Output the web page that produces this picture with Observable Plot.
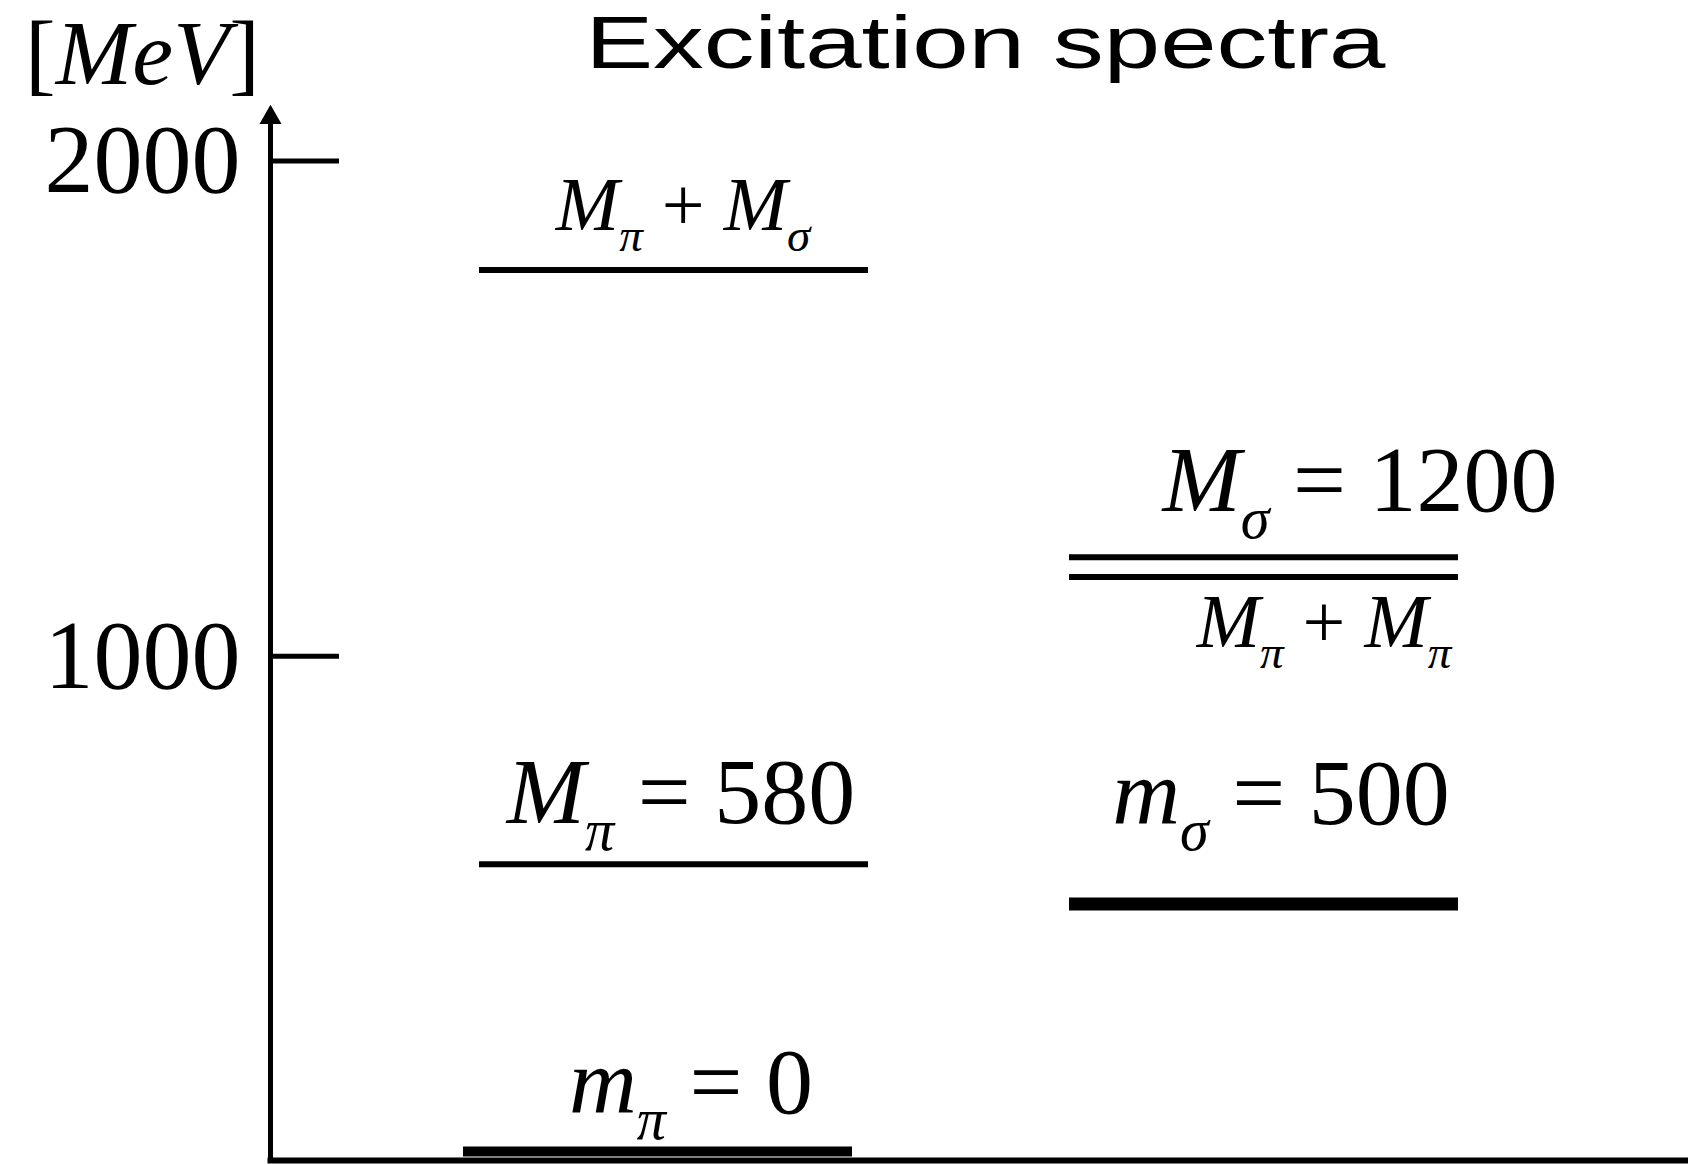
<!DOCTYPE html>
<html>
<head>
<meta charset="utf-8">
<script src="https://cdn.jsdelivr.net/npm/d3@7"></script>
<script src="https://cdn.jsdelivr.net/npm/@observablehq/plot@0.6"></script>
<style>
  html, body { margin: 0; padding: 0; background: #fff; }
</style>
</head>
<body>
<script>
// ---- data: excitation levels of the pion and sigma channels (MeV) ----
const titleText = "Excitation spectra";
const unitLabel = "[MeV]";
const channels = ["pion", "sigma"];
const levelChannel = ["pion", "pion", "pion", "sigma", "sigma", "sigma"];
const levelEnergy = [0, 580, 1780, 500, 1160, 1200];
const levelLabel = ["m_π = 0", "M_π = 580", "M_π + M_σ", "m_σ = 500", "M_π + M_π", "M_σ = 1200"];
const yTicks = [1000, 2000];

// ---- rendering ----
const serif = "'Liberation Serif', 'Times New Roman', serif";
const levels = levelEnergy.map((energy, i) => ({energy, channel: levelChannel[i], label: levelLabel[i]}));
const pick = (...idx) => idx.map((i) => levels[i]);

// line weight and label nudge for each level (by index)
const lineStyle = [
  {strokeWidth: 10, dx: -16},
  {strokeWidth: 6},
  {strokeWidth: 6},
  {strokeWidth: 13},
  {strokeWidth: 6},
  {strokeWidth: 6}
];
const labelStyle = [
  {dx: 17, dy: -39, fontSize: 94},
  {dx: 7, dy: -41, fontSize: 94},
  {dx: 9, dy: -40, fontSize: 76},
  {dx: 17, dy: -80, fontSize: 94},
  {dx: 60, dy: 70, fontSize: 76},
  {dx: 96, dy: -46, fontSize: 94}
];

const chart = Plot.plot({
  width: 1688,
  height: 1164,
  marginLeft: 270,
  marginRight: 0,
  marginTop: 115,
  marginBottom: 4,
  x: {type: "band", domain: channels, paddingInner: 0.3407, paddingOuter: 0.372, align: 0.476, axis: null},
  y: {domain: [-18, 2092], axis: null},
  marks: [
    // energy axis with arrow head, and the baseline
    Plot.frame({anchor: "left", strokeWidth: 5}),
    Plot.frame({anchor: "bottom", strokeWidth: 6}),
    Plot.dot([0], {frameAnchor: "top-left", symbol: "triangle", r: 8.2, fill: "black", dy: 2}),
    Plot.ruleY(yTicks, {y: (d) => d, strokeWidth: 5, insetRight: 1688 - 339}),
    Plot.axisY({ticks: yTicks, tickSize: 0, tickPadding: 30, tickFormat: "d", fontSize: 98, fontFamily: serif, label: null}),
    // level lines
    ...levels.map((d, i) => Plot.tickY(pick(i), {x: "channel", y: "energy", stroke: "black", ...lineStyle[i]})),
    // level labels
    ...levels.map((d, i) => Plot.text(pick(i), {
      x: "channel", y: "energy", text: "label", lineAnchor: "bottom", textAnchor: "middle",
      fontFamily: serif, fill: "black", ...labelStyle[i]
    })),
    // unit and title
    Plot.text([unitLabel], {text: (d) => d, frameAnchor: "top-left", textAnchor: "middle", dx: -128, dy: -32, lineAnchor: "bottom", fontSize: 92, fontFamily: serif}),
    Plot.text([titleText], {text: (d) => d, frameAnchor: "top", textAnchor: "middle", dx: 6, dy: -48, lineAnchor: "bottom", fontSize: 74, fontFamily: "'Liberation Sans', Arial, sans-serif"})
  ]
});

document.body.append(chart);

// Typeset "X_s" notation: Latin/Greek letters italic, "_c" as a lowered subscript.
const SVGNS = "http://www.w3.org/2000/svg";
function typeset(node) {
  const src = node.textContent;
  const size = parseFloat(getComputedStyle(node).fontSize);
  const sub = size * 0.62, drop = size * 0.28;
  node.textContent = "";
  node.style.whiteSpace = "pre";
  let lowered = false;
  for (let i = 0; i < src.length; i++) {
    let ch = src[i], isSub = false;
    if (ch === "_") { isSub = true; ch = src[++i]; }
    const span = document.createElementNS(SVGNS, "tspan");
    span.textContent = ch;
    if (/[A-Za-z\u0370-\u03ff]/.test(ch)) span.setAttribute("font-style", "italic");
    if (isSub) {
      span.setAttribute("font-size", sub);
      if (!lowered) { span.setAttribute("dy", drop); lowered = true; }
    } else if (lowered) {
      span.setAttribute("dy", -drop);
      lowered = false;
    }
    node.appendChild(span);
  }
}

const math = new Set([...levelLabel, unitLabel]);
d3.select(chart).selectAll("text").each(function () {
  const t = this.textContent;
  if (math.has(t)) typeset(this);
  if (t === titleText) {
    this.setAttribute("textLength", 800);
    this.setAttribute("lengthAdjust", "spacingAndGlyphs");
  }
});
</script>
</body>
</html>
